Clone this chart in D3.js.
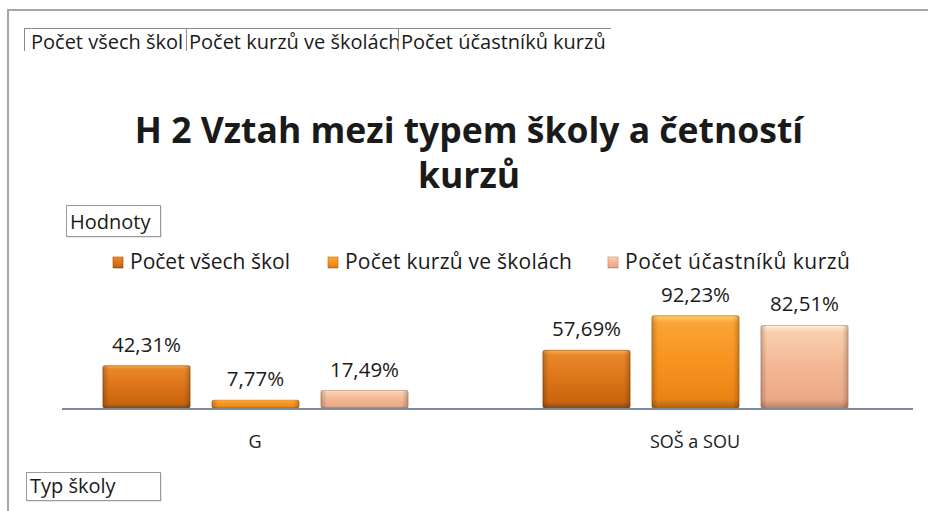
<!DOCTYPE html>
<html>
<head>
<meta charset="utf-8">
<script src="https://cdn.jsdelivr.net/npm/d3@7"></script>
<style>
  body { margin: 0; background: #fff; }
  text { font-family: "Open Sans", "Noto Sans", sans-serif; fill: #1a1a1a; }
</style>
</head>
<body>
<div id="viz-container"></div>
<script>
// data
let categories = ["G", "SOŠ a SOU"];
let seriesNames = ["Počet všech škol", "Počet kurzů ve školách", "Počet účastníků kurzů"];
let vsechSkol = [42.31, 57.69];
let kurzyVeSkolach = [7.77, 92.23];
let ucastniciKurzu = [17.49, 82.51];
let allValues = [vsechSkol, kurzyVeSkolach, ucastniciKurzu];

let svg = d3.select("#viz-container")
  .append("svg")
    .attr("width", 928)
    .attr("height", 511);

// gradients to fake the bevelled excel bars
let defs = svg.append("defs");
let grads = [
  ["#f7ae55", "#e8862a", "#dc7418", "#c9640f", "#8a4a10"],
  ["#ffcf6e", "#fba334", "#f7921f", "#ec8414", "#b0620e"],
  ["#fff0dc", "#f9cfae", "#f3b794", "#eaa986", "#b98266"]
];
grads.forEach(function(c, i) {
  let g = defs.append("linearGradient")
    .attr("id", "g" + i)
    .attr("x1", 0).attr("y1", 0).attr("x2", 0).attr("y2", 1);
  g.append("stop").attr("offset", "0%").attr("stop-color", c[0]);
  g.append("stop").attr("offset", "8%").attr("stop-color", c[1]);
  g.append("stop").attr("offset", "50%").attr("stop-color", c[2]);
  g.append("stop").attr("offset", "90%").attr("stop-color", c[3]);
  g.append("stop").attr("offset", "100%").attr("stop-color", c[4]);
});
let side = defs.append("linearGradient").attr("id", "side")
  .attr("x1", 0).attr("y1", 0).attr("x2", 1).attr("y2", 0);
side.append("stop").attr("offset", "0%").attr("stop-color", "#000").attr("stop-opacity", 0.2);
side.append("stop").attr("offset", "7%").attr("stop-color", "#000").attr("stop-opacity", 0);
side.append("stop").attr("offset", "93%").attr("stop-color", "#000").attr("stop-opacity", 0);
side.append("stop").attr("offset", "100%").attr("stop-color", "#000").attr("stop-opacity", 0.2);

// outer frame
svg.append("path")
  .attr("d", "M8,511 L8,10 L928,10")
  .attr("fill", "none")
  .attr("stroke", "#a6a6a6")
  .attr("stroke-width", 2);

// field buttons on top
let fieldX = [24, 186, 398, 611];
seriesNames.forEach(function(n, i) {
  defs.append("clipPath").attr("id", "fc" + i)
    .append("rect").attr("x", fieldX[i]).attr("y", 26)
    .attr("width", fieldX[i + 1] - fieldX[i]).attr("height", 25);
});
let fields = svg.append("g");
seriesNames.forEach(function(n, i) {
  let f = fields.append("g").attr("clip-path", "url(#fc" + i + ")");
  f.append("rect")
    .attr("x", fieldX[i] + 0.5).attr("y", 28.5)
    .attr("width", fieldX[i + 1] - fieldX[i]).attr("height", 30)
    .attr("fill", "#fff").attr("stroke", "#8c8c8c").attr("stroke-width", 1);
  f.append("text")
    .attr("x", fieldX[i] + (i == 0 ? 7 : 3)).attr("y", 49)
    .attr("font-size", 20)
    .text(n);
});

// title
svg.append("text")
  .attr("x", 469).attr("y", 143)
  .attr("text-anchor", "middle")
  .attr("font-size", 35.5).attr("font-weight", "bold")
  .text("H 2 Vztah mezi typem školy a četností");
svg.append("text")
  .attr("x", 469).attr("y", 188)
  .attr("text-anchor", "middle")
  .attr("font-size", 35.5).attr("font-weight", "bold")
  .text("kurzů");

// small boxes
function fieldBox(x, y, w, h, label, base) {
  svg.append("rect").attr("x", x + 1.5).attr("y", y + 1.5).attr("width", w).attr("height", h)
    .attr("fill", "#cfcfcf");
  svg.append("rect").attr("x", x + 0.5).attr("y", y + 0.5).attr("width", w).attr("height", h)
    .attr("fill", "#fff").attr("stroke", "#9a9a9a");
  svg.append("text").attr("x", x + 4).attr("y", y + base)
    .attr("font-size", 20).text(label);
}
fieldBox(66, 205, 94, 31, "Hodnoty", 24);
fieldBox(26, 472, 134, 28, "Typ školy", 21);

// legend
let legendX = [113, 328, 608];
let legendW = [160, 227, 225];
let legend = svg.selectAll(".legend").data(seriesNames).enter()
  .append("g")
  .attr("class", "legend")
  .attr("transform", function(d, i) { return "translate(" + legendX[i] + ",262)"; });
legend.append("rect")
  .attr("x", 0).attr("y", -5).attr("width", 10).attr("height", 11)
  .attr("fill", function(d, i) { return "url(#g" + i + ")"; })
  .attr("stroke", function(d, i) { return grads[i][4]; }).attr("stroke-width", 0.6);
legend.append("text")
  .attr("x", 17).attr("y", 7)
  .attr("font-size", 21)
  .attr("textLength", function(d, i) { return legendW[i]; })
  .attr("lengthAdjust", "spacing")
  .text(function(d) { return d; });

// scales
let x0 = d3.scaleBand().domain(categories).range([35, 915]);
let x1 = d3.scaleBand().domain(d3.range(seriesNames.length))
  .range([57, 384]).paddingInner(0.2).paddingOuter(0.1);
let y = d3.scaleLinear().domain([0, 100]).range([408, 308]);

let fmt = function(v) { return d3.format(".2f")(v).replace(".", ",") + "%"; };

let bars = [];
categories.forEach(function(c, ci) {
  allValues.forEach(function(vals, si) {
    bars.push({ cat: c, s: si, v: vals[ci] });
  });
});

let plot = svg.append("g");
plot.selectAll(".bar").data(bars).enter()
  .append("rect")
  .attr("class", "bar")
  .attr("x", function(d) { return x0(d.cat) + x1(d.s); })
  .attr("y", function(d) { return y(d.v); })
  .attr("width", x1.bandwidth())
  .attr("height", function(d) { return y(0) - y(d.v); })
  .attr("rx", 2)
  .attr("fill", function(d) { return "url(#g" + d.s + ")"; })
  .attr("stroke", function(d) { return grads[d.s][4]; })
  .attr("stroke-opacity", 0.6);
plot.selectAll(".shade").data(bars).enter()
  .append("rect")
  .attr("class", "shade")
  .attr("x", function(d) { return x0(d.cat) + x1(d.s); })
  .attr("y", function(d) { return y(d.v); })
  .attr("width", x1.bandwidth())
  .attr("height", function(d) { return y(0) - y(d.v); })
  .attr("fill", "url(#side)");

plot.selectAll(".lbl").data(bars).enter()
  .append("text")
  .attr("class", "lbl")
  .attr("x", function(d) { return x0(d.cat) + x1(d.s) + x1.bandwidth() / 2; })
  .attr("y", function(d) { return y(d.v) - 14; })
  .attr("text-anchor", "middle")
  .attr("font-size", 20.5)
  .attr("fill", "#333")
  .text(function(d) { return fmt(d.v); });

// category axis
svg.append("line")
  .attr("x1", 62).attr("x2", 913).attr("y1", y(0) + 1).attr("y2", y(0) + 1)
  .attr("stroke", "#7f8a99").attr("stroke-width", 2);
svg.append("g")
  .attr("transform", "translate(0," + (y(0) + 1) + ")")
  .call(d3.axisBottom(x0).tickSize(0).tickPadding(26))
  .call(function(g) { g.select(".domain").remove(); })
  .selectAll("text")
    .attr("font-size", 18)
    .attr("fill", "#1a1a1a")
    .style("font-family", "'Open Sans', 'Noto Sans', sans-serif");
</script>
</body>
</html>
